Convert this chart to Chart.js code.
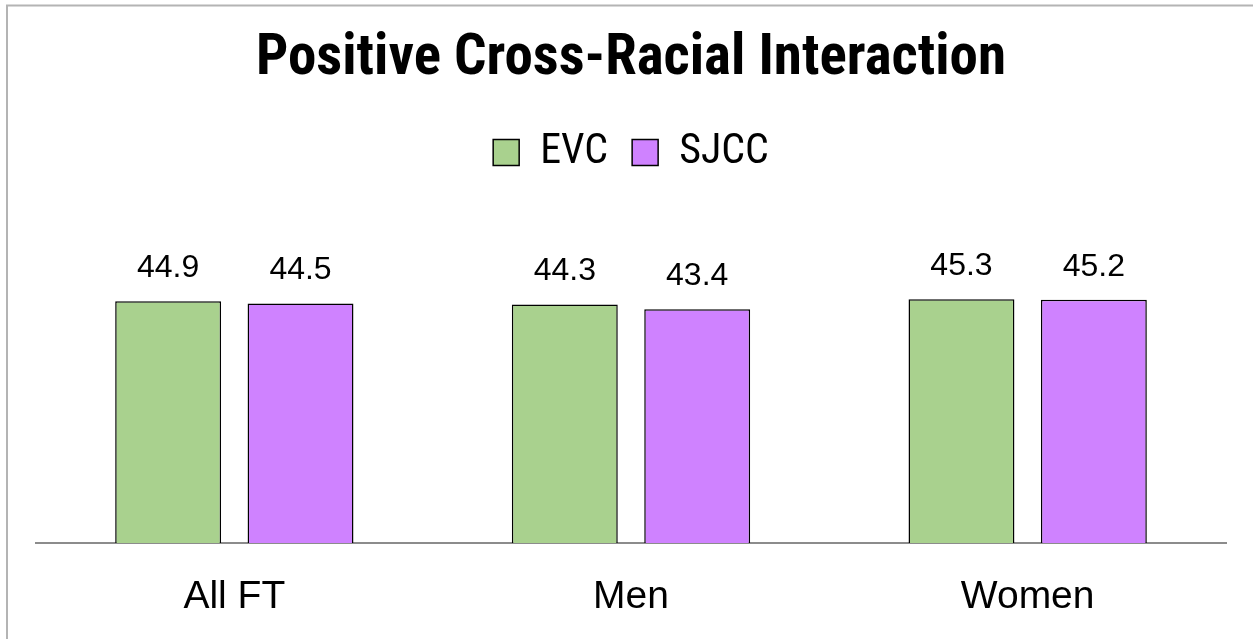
<!DOCTYPE html>
<html><head><meta charset="utf-8">
<script src="https://cdn.jsdelivr.net/npm/chart.js@4.4.1/dist/chart.umd.min.js"></script>
<style>html,body{margin:0;padding:0;background:#fff;}#wrap{width:1253px;height:639px;position:relative;}</style>
</head><body><div id="wrap"><canvas id="c" width="1253" height="639"></canvas></div>
<script>
const categories = ['All FT', 'Men', 'Women'];
const seriesNames = ['EVC', 'SJCC'];
const evcValues = [44.9, 44.3, 45.3];
const sjccValues = [44.5, 43.4, 45.2];
const chartTitle = 'Positive Cross-Racial Interaction';

const NARROW = '"Roboto Condensed", "Liberation Sans Narrow", "DejaVu Sans Condensed", sans-serif';
const SANS = '"Liberation Sans", Arial, sans-serif';

const frame = {
  id: 'frame',
  beforeDraw(chart) {
    const ctx = chart.ctx;
    ctx.save();
    ctx.fillStyle = '#fff';
    ctx.fillRect(0, 0, chart.width, chart.height);
    ctx.strokeStyle = '#b4b4b4';
    ctx.lineWidth = 2;
    ctx.beginPath();
    ctx.moveTo(7, chart.height);
    ctx.lineTo(7, 5.5);
    ctx.lineTo(chart.width, 5.5);
    ctx.stroke();
    ctx.restore();
  }
};

const valueLabels = {
  id: 'valueLabels',
  afterDatasetsDraw(chart) {
    const ctx = chart.ctx;
    ctx.save();
    ctx.font = '32px ' + SANS;
    ctx.fillStyle = '#000';
    ctx.textAlign = 'center';
    ctx.textBaseline = 'middle';
    chart.data.datasets.forEach((ds, i) => {
      chart.getDatasetMeta(i).data.forEach((bar, j) => {
        ctx.fillText(ds.data[j].toFixed(1), bar.x, bar.y - 33);
      });
    });
    ctx.restore();
  }
};

new Chart(document.getElementById('c'), {
  type: 'bar',
  data: {
    labels: categories,
    datasets: [
      { label: seriesNames[0], data: evcValues, backgroundColor: '#A9D18E', borderColor: '#000', borderWidth: 1.5 },
      { label: seriesNames[1], data: sjccValues, backgroundColor: '#CF82FF', borderColor: '#000', borderWidth: 1.5 }
    ]
  },
  options: {
    responsive: false,
    animation: false,
    layout: { padding: { left: 36, right: 27, top: 0, bottom: 21 } },
    datasets: { bar: { categoryPercentage: 0.6675, barPercentage: 0.8 } },
    plugins: {
      title: {
        display: true,
        text: chartTitle,
        color: '#000',
        font: { family: NARROW, size: 57, weight: 'bold' },
        padding: { top: 26, bottom: 13 }
      },
      legend: {
        display: true,
        position: 'top',
        labels: {
          color: '#000',
          font: { family: NARROW, size: 42 },
          boxWidth: 26,
          boxHeight: 26,
          padding: 24
        }
      },
      tooltip: { enabled: false }
    },
    scales: {
      x: {
        grid: { display: false, drawTicks: false },
        border: { display: true, color: '#8c8c8c', width: 2 },
        ticks: { color: '#000', font: { family: SANS, size: 39 }, padding: 31, maxRotation: 0 },
        afterFit(scale) { scale.height = 75; }
      },
      y: {
        display: false,
        min: 0,
        max: 66.8
      }
    }
  },
  plugins: [frame, valueLabels]
});
</script></body></html>
